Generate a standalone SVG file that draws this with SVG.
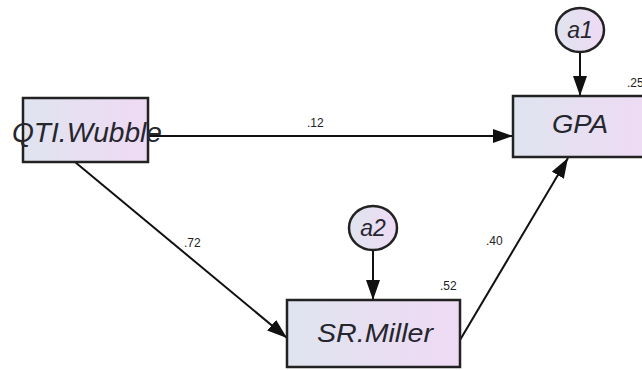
<svg xmlns="http://www.w3.org/2000/svg" width="642" height="370" viewBox="0 0 642 370">
<defs>
<linearGradient id="bg" x1="0" y1="0" x2="1" y2="0">
<stop offset="0" stop-color="#dfe4ef"/>
<stop offset="1" stop-color="#efdaf4"/>
</linearGradient>
<marker id="arr" viewBox="0 0 20 14" refX="20" refY="7" markerWidth="20" markerHeight="14" markerUnits="userSpaceOnUse" orient="auto">
<path d="M0,0 L20,7 L0,14 Z" fill="#111"/>
</marker>
</defs>
<style>
.box{fill:url(#bg);stroke:#222;stroke-width:2.5}
.err{fill:url(#bg);stroke:#222;stroke-width:2.5}
.lbl{font-family:"Liberation Sans",Arial,sans-serif;font-style:italic;fill:#26262e}
.num{font-family:"Liberation Sans",Arial,sans-serif;font-size:12px;fill:#222}
.edge{stroke:#111;stroke-width:2;fill:none;marker-end:url(#arr)}
</style>
<rect width="642" height="370" fill="#fff"/>
<g id="connectors">
<line class="edge" x1="148" y1="136" x2="513" y2="136"/>
<line class="edge" x1="75" y1="162" x2="287" y2="338"/>
<line class="edge" x1="460" y1="340" x2="568" y2="158"/>
<line class="edge" x1="580" y1="52" x2="580" y2="96"/>
<line class="edge" x1="373" y1="250" x2="373" y2="300"/>
<text class="num" x="307" y="127">.12</text>
<text class="num" x="184" y="247">.72</text>
<text class="num" x="486" y="245">.40</text>
<text class="num" x="440" y="290">.52</text>
<text class="num" x="627" y="87">.25</text>
</g>
<g id="QTI.Wubble">
<rect class="box" x="23" y="98" width="125" height="64"/>
<text class="lbl" x="12" y="142" font-size="28" textLength="150" lengthAdjust="spacingAndGlyphs">QTI.Wubble</text>
</g>
<g id="GPA">
<rect class="box" x="513" y="96" width="140" height="61"/>
<text class="lbl" x="552" y="133" font-size="25" textLength="56" lengthAdjust="spacingAndGlyphs">GPA</text>
</g>
<g id="SR.Miller">
<rect class="box" x="287" y="300" width="173" height="67"/>
<text class="lbl" x="317" y="342" font-size="25" textLength="116" lengthAdjust="spacingAndGlyphs">SR.Miller</text>
</g>
<g id="a1">
<ellipse class="err" cx="580" cy="30" rx="24" ry="22"/>
<text class="lbl" x="580" y="38" font-size="23" text-anchor="middle">a1</text>
</g>
<g id="a2">
<ellipse class="err" cx="373" cy="228" rx="24" ry="22"/>
<text class="lbl" x="373" y="236" font-size="23" text-anchor="middle">a2</text>
</g>
</svg>
